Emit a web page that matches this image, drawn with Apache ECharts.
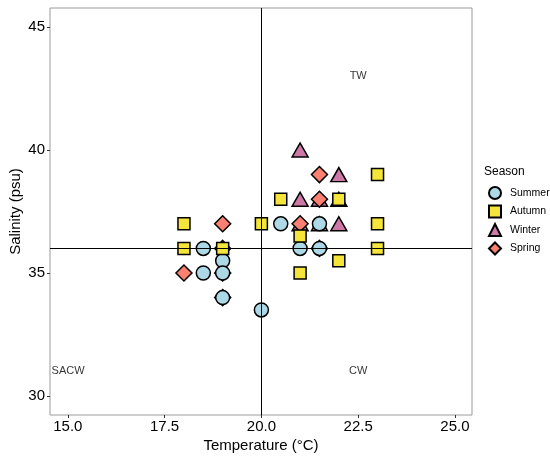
<!DOCTYPE html>
<html>
<head>
<meta charset="utf-8">
<script src="https://cdn.jsdelivr.net/npm/echarts@6/dist/echarts.min.js"></script>
<style>
  html, body { margin: 0; padding: 0; background: #fff; }
  #chart { width: 550px; height: 460px; }
</style>
</head>
<body>
<div id="chart"></div>
<script>
// values
const seasons = ['Summer', 'Autumn', 'Winter', 'Spring'];

const summerTemp = [18.5, 18.5, 19, 19, 19, 20, 20.5, 21.5, 21, 21.5];
const summerSal = [36, 35, 35.5, 35, 34, 33.5, 37, 37, 36, 36];

const autumnTemp = [18, 18, 19, 20, 20.5, 21, 21, 22, 22, 23, 23, 23];
const autumnSal = [37, 36, 36, 37, 38, 36.5, 35, 35.5, 38, 39, 37, 36];

const winterTemp = [21, 22, 21, 22, 21, 22, 21.5, 21.5];
const winterSal = [40, 39, 38, 38, 37, 37, 37, 38];

const springTemp = [18, 19, 21.5, 21.5, 21, 19, 19, 19, 21.5];
const springSal = [35, 37, 39, 38, 37, 36, 35, 34, 36];

const xTicks = [15, 17.5, 20, 22.5, 25];
const yTicks = [30, 35, 40, 45];

const refTemp = 20;
const refSal = 36;

const zoneNames = ['TW', 'CW', 'SACW'];
const zoneTemp = [22.5, 22.5, 14.58];
const zoneSal = [43, 31, 31];

let pairs = (xs, ys) => xs.map((x, i) => [x, ys[i]]);

let myChart = echarts.init(document.getElementById('chart'));
let font = 'Liberation Sans, Arial, sans-serif';

let pointSeries = (name, xs, ys, symbol, size, color) => ({
    name: name,
    type: 'scatter',
    symbol: symbol,
    symbolSize: size,
    data: pairs(xs, ys),
    itemStyle: {
        color: color,
        borderColor: '#000',
        borderWidth: 1.5,
        opacity: 1
    },
    emphasis: { disabled: true }
});

let option = {
    animation: false,
    textStyle: { fontFamily: font },
    grid: {
        left: 50, right: 78, top: 8, bottom: 45,
        outerBoundsMode: 'none',
        containLabel: false,
        show: true,
        borderColor: '#9a9a9a',
        borderWidth: 1
    },
    graphic: [{
        type: 'text',
        left: 484,
        top: 166,
        style: { text: 'Season', fontSize: 12, fontFamily: font, fill: '#000' }
    }],
    legend: {
        data: seasons,
        orient: 'vertical',
        left: 483,
        top: 181,
        itemWidth: 12,
        itemHeight: 12,
        itemGap: 4.5,
        textStyle: { fontSize: 10.5, color: '#000', fontFamily: font, padding: [0, 0, 0, 4] }
    },
    xAxis: {
        type: 'value',
        min: 14.54,
        max: 25.44,
        name: 'Temperature (°C)',
        nameLocation: 'middle',
        nameGap: 23,
        nameMoveOverlap: false,
        nameTextStyle: { fontSize: 15, color: '#000' },
        splitLine: { show: false },
        axisLine: { show: false },
        axisTick: { show: true, length: 3, lineStyle: { color: '#333' }, customValues: xTicks },
        axisLabel: {
            fontSize: 15, color: '#000', margin: 4,
            customValues: xTicks,
            formatter: v => v.toFixed(1)
        }
    },
    yAxis: {
        type: 'value',
        min: 29.23,
        max: 45.77,
        name: 'Salinity (psu)',
        nameLocation: 'middle',
        nameGap: 27,
        nameMoveOverlap: false,
        nameTextStyle: { fontSize: 15, color: '#000' },
        splitLine: { show: false },
        axisLine: { show: false },
        axisTick: { show: true, length: 3, lineStyle: { color: '#333' }, customValues: yTicks },
        axisLabel: {
            fontSize: 15, color: '#000', margin: 5,
            customValues: yTicks
        }
    },
    series: [
        // drawing order: winter at the bottom, autumn on top
        pointSeries('Winter', winterTemp, winterSal, 'triangle', [16, 14], '#CC79A7'),
        pointSeries('Spring', springTemp, springSal, 'diamond', [16, 16], '#FA8072'),
        pointSeries('Summer', summerTemp, summerSal, 'circle', 14, '#ADD8E6'),
        pointSeries('Autumn', autumnTemp, autumnSal, 'rect', 12, '#F5E43A'),
        {
            name: 'ref',
            type: 'scatter',
            data: [],
            z: 5,
            markLine: {
                silent: true,
                symbol: 'none',
                animation: false,
                label: { show: false },
                lineStyle: { color: '#000', width: 1, type: 'solid' },
                data: [{ xAxis: refTemp }, { yAxis: refSal }]
            }
        },
        {
            name: 'zones',
            type: 'scatter',
            symbolSize: 0,
            silent: true,
            data: zoneNames.map((n, i) => ({
                value: [zoneTemp[i], zoneSal[i]],
                label: {
                    show: true,
                    formatter: n,
                    position: i === 2 ? 'right' : 'inside',
                    distance: 0,
                    fontSize: 11,
                    color: '#000'
                }
            }))
        }
    ]
};

myChart.setOption(option);
</script>
</body>
</html>
